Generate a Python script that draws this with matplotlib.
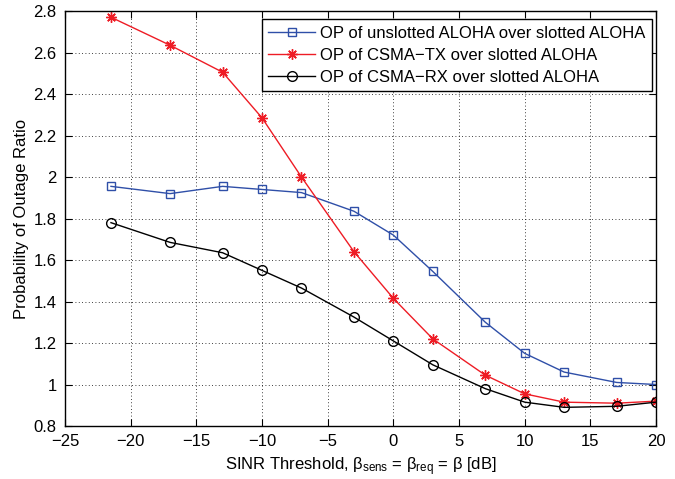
import numpy as np
import matplotlib.pyplot as plt

plt.rcParams['font.family'] = ['Liberation Sans', 'DejaVu Sans']
plt.rcParams['mathtext.fontset'] = 'custom'
plt.rcParams['mathtext.rm'] = 'Liberation Sans'
plt.rcParams['mathtext.it'] = 'Liberation Sans:italic'

# SINR threshold [dB]
beta = [-21.5, -17, -13, -10, -7, -3, 0, 3, 7, 10, 13, 17, 20]

op_unslotted = [1.955, 1.92, 1.955, 1.94, 1.925, 1.835, 1.72, 1.545, 1.30, 1.15, 1.06, 1.01, 1.0]
op_csma_tx = [2.77, 2.635, 2.505, 2.285, 2.0, 1.64, 1.415, 1.22, 1.045, 0.955, 0.915, 0.91, 0.92]
op_csma_rx = [1.78, 1.685, 1.635, 1.55, 1.465, 1.325, 1.21, 1.095, 0.98, 0.915, 0.89, 0.895, 0.915]

xticks = np.arange(-25, 21, 5)
yticks = np.arange(0.8, 2.81, 0.2)

fig = plt.figure(figsize=(6.75, 4.79), dpi=100)
ax = fig.add_axes([0.0963, 0.1106, 0.8757, 0.8664])

ax.plot(beta, op_unslotted, color='#2f4fa8', marker='s', ms=6, mfc='none', mew=1.0, lw=1.0,
        label='OP of unslotted ALOHA over slotted ALOHA')
ax.plot(beta, op_csma_tx, color='#ee1c25', marker=(8, 2, 0), ms=7.5, mew=1.0, lw=1.0,
        label='OP of CSMA\u2212TX over slotted ALOHA')
ax.plot(beta, op_csma_rx, color='black', marker='o', ms=7, mfc='none', mew=1.0, lw=1.0,
        label='OP of CSMA\u2212RX over slotted ALOHA')

ax.set_xlim(-25, 20)
ax.set_ylim(0.8, 2.8)
ax.set_xticks(xticks)
ax.set_yticks(yticks)
ax.set_yticklabels(['0.8', '1', '1.2', '1.4', '1.6', '1.8', '2', '2.2', '2.4', '2.6', '2.8'])
ax.grid(True, linestyle=(0, (1, 3)), color='black', lw=0.6)
ax.tick_params(direction='in', top=True, right=True, labelsize=12, length=5)
ax.tick_params(axis='x', pad=6)
ax.tick_params(axis='y', pad=6)
for s in ax.spines.values():
    s.set_linewidth(1.0)

ax.set_xlabel(r'SINR Threshold, β$_{\mathrm{sens}}$ = β$_{\mathrm{req}}$ = β [dB]', fontsize=12, labelpad=4)
ax.set_ylabel('Probability of Outage Ratio', fontsize=12, labelpad=3)

leg = ax.legend(loc='upper right', bbox_to_anchor=(0.9932, 0.9807), fontsize=12, fancybox=False,
                edgecolor='black', framealpha=1, borderpad=0.4, labelspacing=0.42,
                handlelength=2.8, handletextpad=0.3, borderaxespad=0)
leg.get_frame().set_linewidth(1.0)

fig.savefig('out.png', dpi=100)
